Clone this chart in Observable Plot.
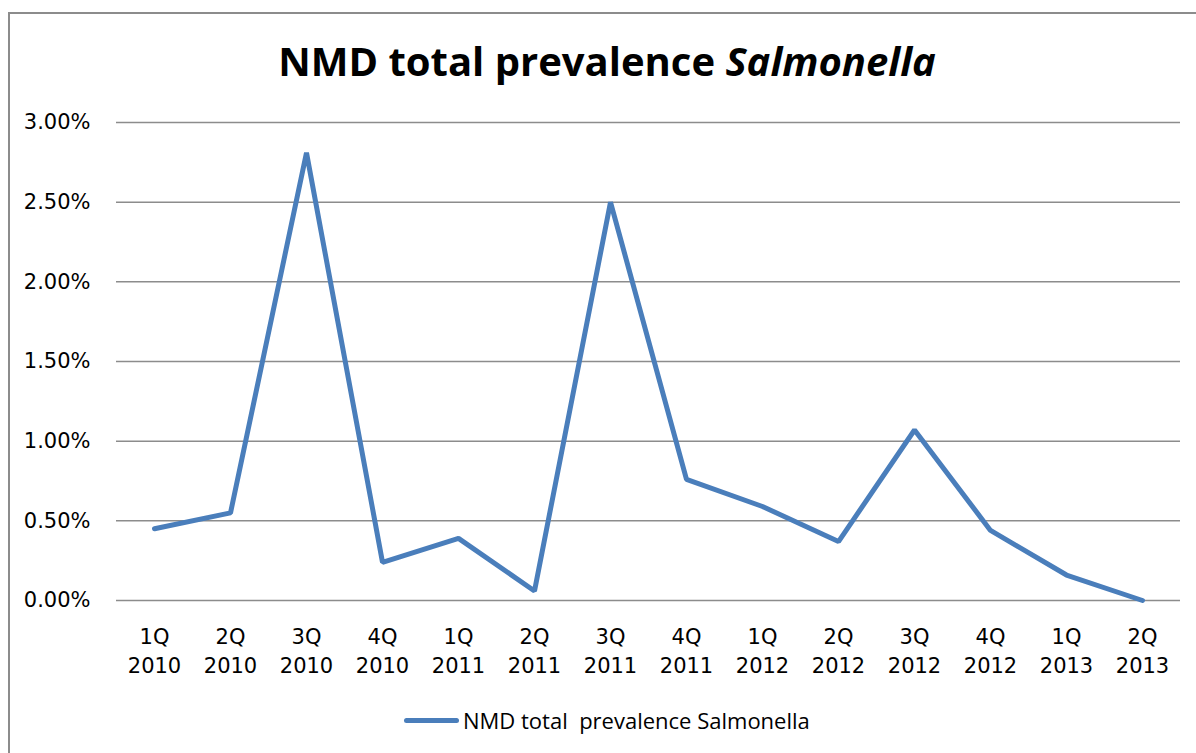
<!DOCTYPE html>
<html>
<head>
<meta charset="utf-8">
<script src="https://cdn.jsdelivr.net/npm/d3@7"></script>
<script src="https://cdn.jsdelivr.net/npm/@observablehq/plot@0.6"></script>
<style>
  html, body { margin: 0; padding: 0; background: #fff; width: 1196px; height: 753px; overflow: hidden; }
  body { position: relative; font-family: "Open Sans", sans-serif; }
  #frame { position: absolute; left: 8px; top: 12px; width: 1200px; height: 760px; border: 2px solid #8c8c8c; box-sizing: border-box; }
  #title { position: absolute; left: 0; width: 1214px; top: 34px; text-align: center; font-family: "Open Sans", sans-serif; font-size: 40px; line-height: 1.362; font-weight: bold; color: #000; white-space: pre; }
  #chart { position: absolute; left: 0; top: 0; }
  #legend { position: absolute; left: 404px; top: 705px; font-family: "Open Sans", sans-serif; font-size: 22px; line-height: 30px; color: #000; display: flex; align-items: center; white-space: pre; }
  #legend .sw { width: 55px; height: 5px; background: #4a7ebb; border-radius: 3px; margin-right: 4px; }
</style>
</head>
<body>
<div id="frame"></div>
<div id="title">NMD total prevalence <i>Salmonella</i></div>
<div id="chart"></div>
<div id="legend"><span class="sw"></span><span>NMD total  prevalence Salmonella</span></div>
<script>
const quarters = ["1Q","2Q","3Q","4Q","1Q","2Q","3Q","4Q","1Q","2Q","3Q","4Q","1Q","2Q"];
const years = ["2010","2010","2010","2010","2011","2011","2011","2011","2012","2012","2012","2012","2013","2013"];
const prevalence = [0.0045, 0.0055, 0.0281, 0.0024, 0.0039, 0.0006, 0.0250, 0.0076, 0.0059, 0.0037, 0.0107, 0.0044, 0.0016, 0.0000];
const yTicks = [0, 0.005, 0.01, 0.015, 0.02, 0.025, 0.03];

const labels = quarters.map((q, i) => q + "\n" + years[i]);
const data = labels.map((l, i) => ({label: l, value: prevalence[i]}));

const plot = Plot.plot({
  width: 1196,
  height: 700,
  marginTop: 122,
  marginBottom: 100,
  marginLeft: 116,
  marginRight: 16,
  style: {fontFamily: "'DejaVu Sans', sans-serif", fontSize: "21px", color: "#000", background: "transparent"},
  x: {type: "point", domain: labels, padding: 0.5},
  y: {domain: [0, 0.03]},
  marks: [
    Plot.ruleY(yTicks, {stroke: "#8c8c8c", strokeWidth: 1.5}),
    Plot.axisY({ticks: yTicks, tickSize: 0, tickPadding: 26, tickFormat: d => (d * 100).toFixed(2) + "%", label: null, fontSize: 21}),
    Plot.axisX({tickSize: 0, tickPadding: 23, label: null, fontSize: 21, lineHeight: 1.38, textAnchor: "middle"}),
    Plot.line(data, {x: "label", y: "value", stroke: "#4a7ebb", strokeWidth: 5, strokeLinejoin: "miter", strokeLinecap: "round"})
  ]
});
document.getElementById("chart").appendChild(plot);
</script>
</body>
</html>
